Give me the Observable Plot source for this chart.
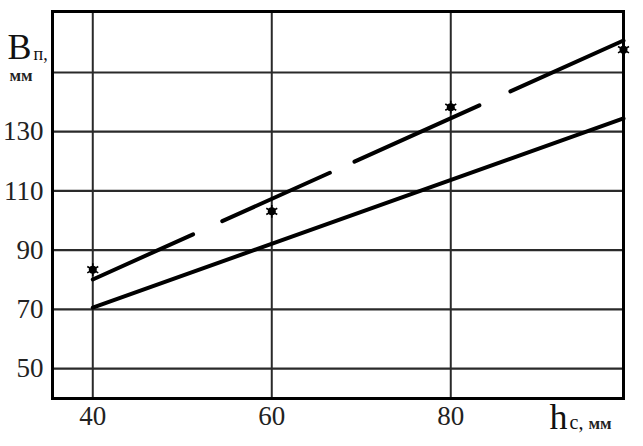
<!DOCTYPE html>
<html>
<head>
<meta charset="utf-8">
<script src="https://cdn.jsdelivr.net/npm/d3@7"></script>
<script src="https://cdn.jsdelivr.net/npm/@observablehq/plot@0.6"></script>
<style>
  html, body { margin: 0; padding: 0; background: #fff; }
  #chart svg { display: block; }
</style>
</head>
<body>
<div id="chart"></div>
<script>
// Data
const measuredHc = [40, 60, 80, 99.3];
const measuredB = [83.4, 103.1, 138.3, 157.7];
const lineHc = [40, 99.3];
const solidB = [70.6, 134.5];
const dashedB = [80.1, 160.8];
const xTicks = [40, 60, 80];
const yGrid = [50, 70, 90, 110, 130, 150];
const yTicks = [50, 70, 90, 110, 130];

const measured = measuredHc.map((x, i) => ({x, y: measuredB[i]}));
const solid = lineHc.map((x, i) => ({x, y: solidB[i]}));
const dashed = lineHc.map((x, i) => ({x, y: dashedB[i]}));

const serif = "'Liberation Serif', 'DejaVu Serif', serif";

const chart = Plot.plot({
  width: 643,
  height: 446,
  marginLeft: 52,
  marginRight: 20,
  marginTop: 11,
  marginBottom: 48,
  style: {fontFamily: serif, background: "#fff", color: "#222"},
  x: {domain: [35.5, 99.3], axis: null},
  y: {domain: [39.9, 170.6], axis: null},
  marks: [
    Plot.ruleX(xTicks, {stroke: "#2a2a2a", strokeWidth: 2}),
    Plot.ruleY(yGrid, {stroke: "#2a2a2a", strokeWidth: 2.2}),
    Plot.axisX(xTicks, {tickSize: 0, tickPadding: 7, fontSize: 27, fill: "#222", label: null, tickFormat: d => String(d)}),
    Plot.axisY(yTicks, {tickSize: 0, tickPadding: 9, fontSize: 27, fill: "#222", label: null, tickFormat: d => String(d)}),
    Plot.line(solid, {x: "x", y: "y", stroke: "#000", strokeWidth: 4, strokeLinecap: "round"}),
    Plot.line(dashed, {x: "x", y: "y", stroke: "#000", strokeWidth: 4, strokeLinecap: "round", strokeDasharray: "110,32,118,27,137,34,140"}),
    Plot.dot(measured, {x: "x", y: "y", r: 4, fill: "#000", stroke: "none"}),
    Plot.dot(measured, {x: "x", y: "y", r: 6, symbol: "asterisk", stroke: "#000", strokeWidth: 1.6}),
    Plot.frame({stroke: "#000", strokeWidth: 3}),
    // Y axis label: Bп, мм
    Plot.text(["B"], {frameAnchor: "top-left", dx: -45, dy: 47, textAnchor: "start", lineAnchor: "bottom", fontSize: 36, fill: "#111"}),
    Plot.text(["п,"], {frameAnchor: "top-left", dx: -19, dy: 48, textAnchor: "start", lineAnchor: "bottom", fontSize: 18, fill: "#111"}),
    Plot.text(["мм"], {frameAnchor: "top-left", dx: -43, dy: 69, textAnchor: "start", lineAnchor: "bottom", fontSize: 17, fontWeight: "bold", fill: "#222"}),
    // X axis label: hс, мм
    Plot.text(["h"], {frameAnchor: "bottom-right", dx: -74, dy: 30, textAnchor: "start", lineAnchor: "bottom", fontSize: 36, fill: "#111"}),
    Plot.text(["с,"], {frameAnchor: "bottom-right", dx: -54, dy: 30, textAnchor: "start", lineAnchor: "bottom", fontSize: 20, fill: "#111"}),
    Plot.text(["мм"], {frameAnchor: "bottom-right", dx: -35, dy: 30, textAnchor: "start", lineAnchor: "bottom", fontSize: 17, fontWeight: "bold", fill: "#222"})
  ]
});
document.getElementById("chart").appendChild(chart);
</script>
</body>
</html>
